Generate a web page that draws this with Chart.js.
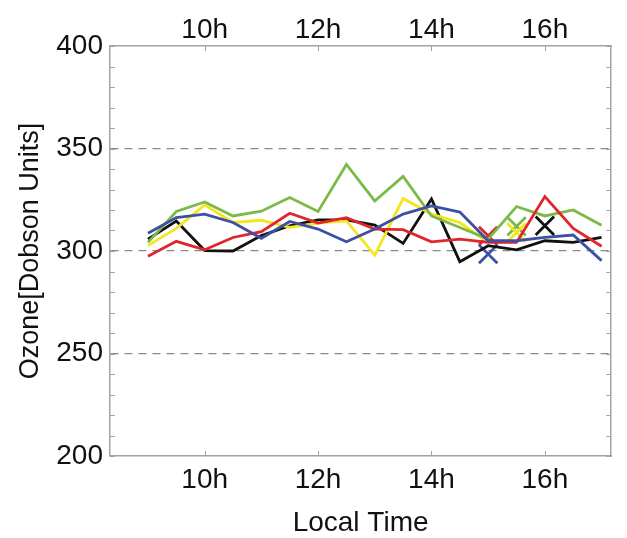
<!DOCTYPE html>
<html><head><meta charset="utf-8">
<script src="https://cdn.jsdelivr.net/npm/chart.js@4.4.0/dist/chart.umd.min.js"></script>
<style>html,body{margin:0;padding:0;background:#fff}#wrap{width:627px;height:538px;position:relative}</style>
</head><body><div id="wrap"><canvas id="c" width="627" height="538"></canvas></div>
<script>
// ---- data ----
const times = [9, 9.5, 10, 10.5, 11, 11.5, 12, 12.5, 13, 13.5, 14, 14.5, 15, 15.5, 16, 16.5, 17];
const xTickHours = [10, 12, 14, 16];
const yTickValues = [200, 250, 300, 350, 400];
const yGridValues = [250, 300, 350];

const seriesNames = ['blue', 'red', 'green', 'yellow', 'black'];
const blueValues   = [308.7, 316.3, 318.0, 313.9, 306.2, 314.4, 310.7, 304.5, 310.7, 318.0, 322.0, 319.0, 305.0, 305.0, 306.6, 307.8, 295.3];
const redValues    = [297.4, 304.7, 300.6, 306.6, 309.4, 318.4, 313.6, 316.3, 310.7, 310.4, 304.5, 305.8, 304.2, 304.2, 326.6, 311.0, 302.3];
const greenValues  = [304.2, 319.3, 323.9, 317.1, 319.4, 326.1, 319.3, 342.2, 324.4, 336.4, 317.1, 311.5, 305.8, 321.7, 317.1, 320.0, 312.6];
const yellowValues = [302.6, 311.0, 322.5, 313.9, 315.0, 311.5, 313.6, 314.7, 298.0, 325.6, 318.0, 313.9, 304.2, null, null, null, null];
const blackValues  = [305.8, 314.6, 300.2, 300.0, 307.5, 312.3, 315.2, 315.2, 312.6, 303.7, 325.4, 294.8, 302.6, 300.6, 305.0, 304.2, 306.6];

// single "X" marks
const markerSeries = ['blue', 'red', 'yellow', 'green', 'black'];
const markerTimes  = [15, 15, 15.5, 15.5, 16];
const markerValues = [298.5, 307.4, 309.0, 312.0, 312.3];

// ---- styling ----
const colors = { blue: '#3d50a3', red: '#e0252c', green: '#7cba47', yellow: '#f4e61e', black: '#111111' };
const valuesBySeries = { blue: blueValues, red: redValues, green: greenValues, yellow: yellowValues, black: blackValues };
const FONT = "'Liberation Sans', Arial, sans-serif";
const FRAME = '#a3a3a3';

const datasets = seriesNames.map(n => ({
  label: n,
  data: times.map((t, i) => ({ x: t, y: valuesBySeries[n][i] })),
  borderColor: colors[n],
  borderWidth: 2.8,
  pointRadius: 0,
  tension: 0,
  spanGaps: false,
  xAxisID: 'x', yAxisID: 'y'
}));
markerSeries.forEach((n, i) => {
  datasets.push({
    label: n + ' mark',
    data: [{ x: markerTimes[i], y: markerValues[i] }],
    showLine: false,
    borderColor: colors[n],
    backgroundColor: colors[n],
    pointStyle: 'crossRot',
    pointRadius: 13,
    pointBorderWidth: 2.8,
    xAxisID: 'x', yAxisID: 'y'
  });
});

const inwardTicks = {
  id: 'inwardTicks',
  afterDatasetsDraw(chart) {
    const { ctx, chartArea: a, scales } = chart;
    const len = 5;
    ctx.save();
    ctx.strokeStyle = FRAME;
    ctx.lineWidth = 1;
    for (let v = scales.y.min; v <= scales.y.max; v += 10) {
      const py = Math.round(scales.y.getPixelForValue(v)) + 0.5;
      ctx.beginPath();
      ctx.moveTo(a.left, py); ctx.lineTo(a.left + len, py);
      ctx.moveTo(a.right, py); ctx.lineTo(a.right - len, py);
      ctx.stroke();
    }
    xTickHours.forEach(h => {
      const px = Math.round(scales.x.getPixelForValue(h)) + 0.5;
      ctx.beginPath();
      ctx.moveTo(px, a.bottom); ctx.lineTo(px, a.bottom - len);
      ctx.moveTo(px, a.top); ctx.lineTo(px, a.top + len);
      ctx.stroke();
    });
    ctx.restore();
  }
};

const xCommon = {
  type: 'linear', min: 8.33, max: 17.17,
  afterBuildTicks: s => { s.ticks = xTickHours.map(v => ({ value: v })); },
  grid: { display: false, drawTicks: false },
  border: { display: true, color: FRAME, width: 1.5 },
  ticks: { callback: v => v + 'h', color: '#111', font: { family: FONT, size: 28, lineHeight: 1 }, maxRotation: 0, autoSkip: false }
};

new Chart(document.getElementById('c'), {
  type: 'line',
  data: { datasets },
  options: {
    responsive: false, animation: false, devicePixelRatio: 1,
    layout: { padding: 0 },
    plugins: { legend: { display: false }, tooltip: { enabled: false } },
    scales: {
      x: Object.assign({}, xCommon, {
        position: 'bottom',
        ticks: Object.assign({}, xCommon.ticks, { padding: 10 }),
        title: { display: true, text: 'Local Time', color: '#111', font: { family: FONT, size: 28, lineHeight: 0.9 }, padding: { top: 0, bottom: 2 } },
        afterFit: s => { s.height = 82; }
      }),
      x2: Object.assign({}, xCommon, {
        position: 'top',
        ticks: Object.assign({}, xCommon.ticks, { padding: 2 }),
        afterFit: s => { s.height = 46; }
      }),
      y: {
        type: 'linear', position: 'left', min: 200, max: 400,
        afterBuildTicks: s => { s.ticks = yTickValues.map(v => ({ value: v })); },
        grid: {
          drawTicks: false,
          color: ctx => yGridValues.includes(ctx.tick && ctx.tick.value) ? '#8a8a8a' : 'rgba(0,0,0,0)',
          lineWidth: 1.2
        },
        border: { display: true, color: FRAME, width: 1.5, dash: [8, 6] },
        ticks: { color: '#111', font: { family: FONT, size: 28 }, padding: 7 },
        title: { display: true, text: 'Ozone[Dobson Units]', color: '#111', font: { family: FONT, size: 27 }, padding: { top: 14, bottom: 0 } },
        afterFit: s => { s.width = 110; }
      },
      y2: {
        type: 'linear', position: 'right', min: 200, max: 400,
        grid: { display: false, drawTicks: false },
        border: { display: true, color: FRAME, width: 1.5 },
        ticks: { display: false },
        afterFit: s => { s.width = 5; }
      }
    }
  },
  plugins: [inwardTicks]
});
</script></body></html>
